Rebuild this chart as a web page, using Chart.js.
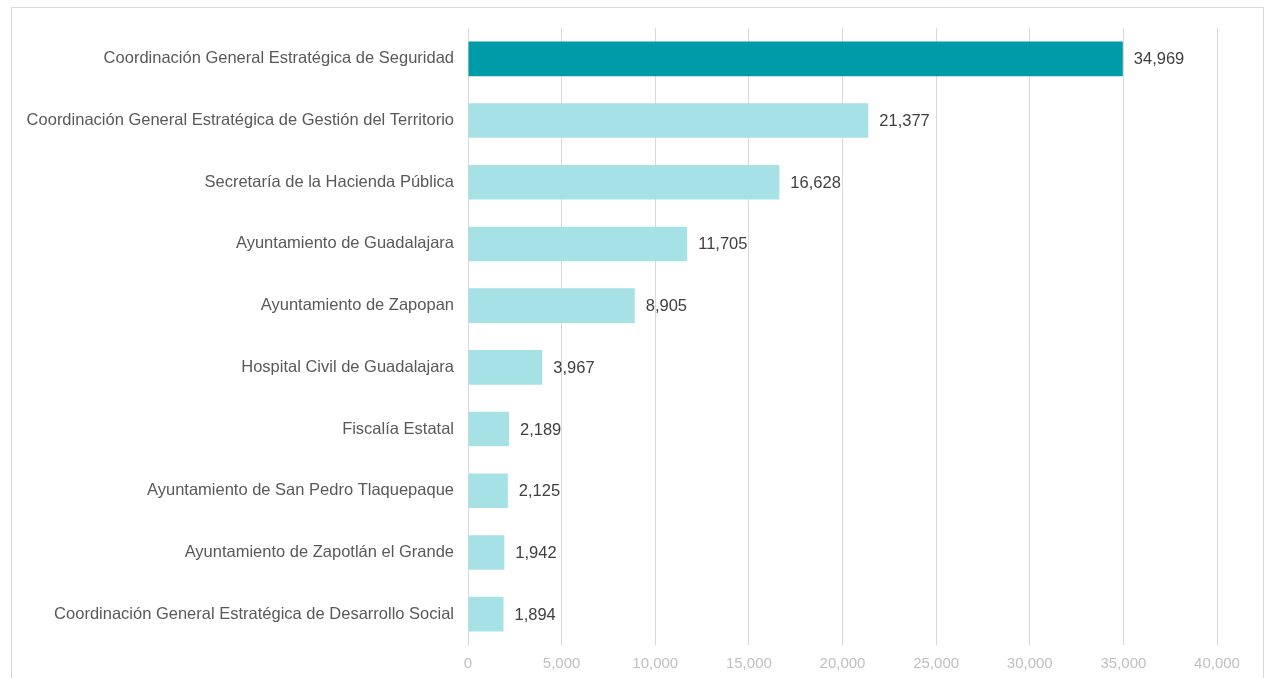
<script src="https://cdn.jsdelivr.net/npm/chart.js"></script>
<style>
    body {
        margin: 0;
        padding: 0;
        background-color: #ffffff;
        font-family: "Liberation Sans", Arial, sans-serif;
    }
    .frame {
        position: absolute;
        left: 11px;
        top: 7px;
        width: 1251px;
        height: 700px;
        border: 1px solid #d9d9d9;
    }
    .chart-box {
        position: absolute;
        left: 0;
        top: 0;
        width: 1266px;
        height: 678px;
    }
</style>

<div class="frame"></div>
<div class="chart-box"><canvas id="chart" width="1266" height="678"></canvas></div>

<script>
    const categories = [
        "Coordinación General Estratégica de Seguridad",
        "Coordinación General Estratégica de Gestión del Territorio",
        "Secretaría de la Hacienda Pública",
        "Ayuntamiento de Guadalajara",
        "Ayuntamiento de Zapopan",
        "Hospital Civil de Guadalajara",
        "Fiscalía Estatal",
        "Ayuntamiento de San Pedro Tlaquepaque",
        "Ayuntamiento de Zapotlán el Grande",
        "Coordinación General Estratégica de Desarrollo Social"
    ];
    const values = [34969, 21377, 16628, 11705, 8905, 3967, 2189, 2125, 1942, 1894];
    const xTicks = [0, 5000, 10000, 15000, 20000, 25000, 30000, 35000, 40000];

    const barColors = values.map((v, i) => i === 0 ? '#009ba8' : '#a6e1e5');

    // draws the number to the right of each bar
    const valueLabels = {
        id: 'valueLabels',
        afterDatasetsDraw(chart) {
            const ctx = chart.ctx;
            const meta = chart.getDatasetMeta(0);
            ctx.save();
            ctx.font = '16.5px "Liberation Sans", Arial, sans-serif';
            ctx.fillStyle = '#404040';
            ctx.textAlign = 'left';
            ctx.textBaseline = 'middle';
            meta.data.forEach((bar, i) => {
                ctx.fillText(values[i].toLocaleString('en-US'), bar.x + 11, bar.y + 1);
            });
            ctx.restore();
        }
    };

    new Chart(document.getElementById('chart'), {
        type: 'bar',
        data: {
            labels: categories,
            datasets: [{
                data: values,
                backgroundColor: barColors,
                borderWidth: 0,
                barPercentage: 0.56,
                categoryPercentage: 1.0
            }]
        },
        options: {
            indexAxis: 'y',
            responsive: false,
            animation: false,
            devicePixelRatio: 1,
            layout: { padding: { left: 0, right: 49, top: 28, bottom: 0 } },
            plugins: {
                legend: { display: false },
                tooltip: { enabled: false }
            },
            scales: {
                x: {
                    min: 0,
                    max: 40000,
                    afterBuildTicks: (scale) => { scale.ticks = xTicks.map(v => ({ value: v })); },
                    afterFit: (scale) => { scale.height = 33; },
                    grid: { color: '#d9d9d9', drawTicks: false },
                    border: { display: false },
                    ticks: {
                        padding: 10,
                        color: '#bfbfbf',
                        font: { size: 15, family: '"Liberation Sans", Arial, sans-serif' },
                        callback: (v) => v.toLocaleString('en-US')
                    }
                },
                y: {
                    afterFit: (scale) => { scale.width = 468; },
                    grid: { display: false, drawTicks: false },
                    border: { display: true, color: '#d9d9d9' },
                    ticks: {
                        padding: 14,
                        color: '#595959',
                        font: { size: 16.5, family: '"Liberation Sans", Arial, sans-serif' }
                    }
                }
            }
        },
        plugins: [valueLabels]
    });
</script>
